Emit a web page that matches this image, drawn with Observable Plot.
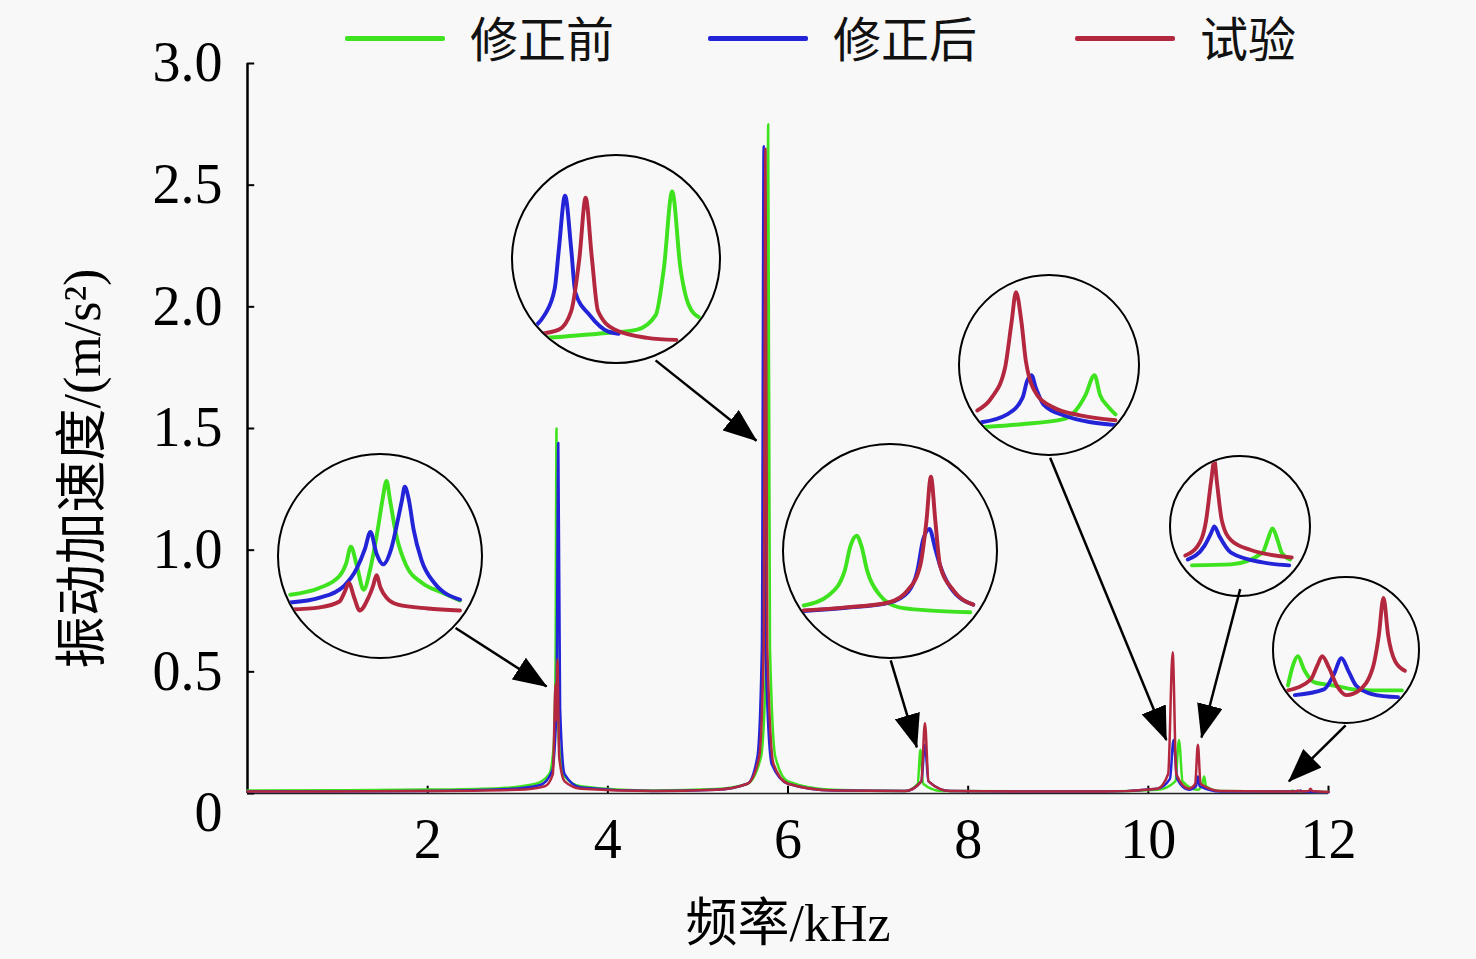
<!DOCTYPE html>
<html><head><meta charset="utf-8">
<script src="https://cdn.jsdelivr.net/npm/d3@7"></script>
<script src="https://cdn.jsdelivr.net/npm/@observablehq/plot@0.6"></script>
<style>
html,body{margin:0;padding:0;background:#f8f8f8;}
#wrap{position:relative;width:1476px;height:959px;overflow:hidden;}
#wrap > svg{position:absolute;left:0;top:0;}
.leg{position:absolute;top:1px;display:flex;align-items:center;}
.leg .sw{width:100px;height:5px;margin-right:25px;border-radius:2px;position:relative;top:2px;}
.leg span{font-family:"Noto Sans CJK SC";font-size:48px;line-height:normal;color:#111;}
.inset{position:absolute;box-sizing:border-box;border:2.5px solid #000;border-radius:50%;overflow:hidden;}
.inset svg{position:absolute;left:-2.5px;top:-2.5px;}
</style></head><body><div id="wrap"></div><script>
// ---- labels / ticks ----
const seriesNames = ["修正前", "修正后", "试验"];
const seriesColors = ["#3fe21f", "#2323d8", "#b3283f"];
const xTicks = [2, 4, 6, 8, 10, 12];
const yTicks = [0, 0.5, 1.0, 1.5, 2.0, 2.5, 3.0];
const xLabel = "频率/kHz";
const yLabel = "振动加速度/(m/s²)";

// ---- main spectra [kHz, m/s²] ----
const greenMain = [[0,0.012],[1.0,0.013],[2.0,0.016],[2.8,0.022],[3.2,0.04],[3.35,0.08],[3.40,0.2],[3.42,0.55],[3.43,1.50],[3.44,0.55],[3.46,0.2],[3.52,0.07],[3.7,0.03],[4.5,0.012],[5.2,0.018],[5.55,0.04],[5.70,0.15],[5.76,0.6],[5.78,2.75],[5.80,0.6],[5.86,0.15],[6.0,0.05],[6.5,0.015],[7.3,0.01],[7.44,0.04],[7.47,0.18],[7.50,0.04],[7.7,0.01],[9.5,0.008],[10.1,0.015],[10.3,0.05],[10.34,0.22],[10.38,0.05],[10.55,0.015],[10.60,0.04],[10.62,0.07],[10.64,0.03],[10.8,0.01],[11.58,0.008],[11.60,0.012],[11.62,0.008],[12.0,0.006]];
const blueMain = [[0,0.008],[2.0,0.01],[2.9,0.018],[3.25,0.035],[3.38,0.09],[3.43,0.35],[3.45,1.44],[3.47,0.35],[3.52,0.08],[3.7,0.025],[4.5,0.01],[5.2,0.015],[5.55,0.04],[5.66,0.15],[5.71,0.6],[5.73,2.66],[5.75,0.6],[5.82,0.12],[6.0,0.04],[6.5,0.012],[7.3,0.01],[7.48,0.05],[7.52,0.20],[7.56,0.05],[7.8,0.01],[9.5,0.008],[10.1,0.02],[10.24,0.06],[10.28,0.22],[10.32,0.06],[10.45,0.015],[10.53,0.03],[10.55,0.07],[10.57,0.03],[10.8,0.008],[11.67,0.008],[11.69,0.012],[11.71,0.008],[12,0.005]];
const redMain = [[0,0.008],[2.0,0.01],[3.0,0.015],[3.3,0.03],[3.39,0.08],[3.42,0.45],[3.43,0.3],[3.44,0.55],[3.46,0.15],[3.52,0.05],[3.7,0.02],[4.5,0.01],[5.2,0.015],[5.55,0.04],[5.68,0.15],[5.73,0.6],[5.75,2.65],[5.77,0.6],[5.84,0.12],[6.0,0.04],[6.5,0.012],[7.3,0.01],[7.48,0.05],[7.52,0.29],[7.56,0.05],[7.8,0.01],[9.5,0.008],[10.1,0.02],[10.22,0.08],[10.27,0.58],[10.31,0.08],[10.45,0.02],[10.52,0.04],[10.55,0.20],[10.58,0.04],[10.8,0.01],[11.64,0.008],[11.66,0.012],[11.68,0.008],[11.78,0.01],[11.80,0.02],[11.82,0.01],[12,0.006]];

// ---- annotation arrows (from inset to peak) ----
const arrowFromX = [2.31, 4.53, 7.14, 8.91, 11.02, 12.19];
const arrowFromY = [0.68, 1.78, 0.547, 1.38, 0.84, 0.28];
const arrowToX   = [3.32, 5.65, 7.43, 10.20, 10.59, 11.56];
const arrowToY   = [0.44, 1.45, 0.19, 0.22, 0.23, 0.05];

// ---- inset zoom spectra [kHz, relative amplitude] ----
const insetAGreen = [[3.319,0.301],[3.363,0.335],[3.392,0.393],[3.402,0.456],[3.409,0.539],[3.418,0.442],[3.428,0.325],[3.438,0.432],[3.449,0.626],[3.456,0.772],[3.462,0.864],[3.467,0.772],[3.476,0.602],[3.491,0.447],[3.515,0.359],[3.545,0.311],[3.571,0.272]];
const insetABlue = [[3.319,0.262],[3.363,0.286],[3.399,0.345],[3.418,0.432],[3.430,0.529],[3.438,0.612],[3.447,0.505],[3.457,0.451],[3.469,0.529],[3.479,0.675],[3.485,0.772],[3.489,0.835],[3.495,0.772],[3.502,0.626],[3.514,0.471],[3.533,0.359],[3.571,0.277]];
const insetARed = [[3.319,0.228],[3.363,0.238],[3.392,0.267],[3.400,0.316],[3.406,0.359],[3.414,0.286],[3.422,0.223],[3.435,0.286],[3.442,0.345],[3.447,0.398],[3.453,0.335],[3.462,0.286],[3.479,0.252],[3.523,0.233],[3.571,0.223]];

const insetBGreen = [[5.717,0.11],[5.742,0.13],[5.761,0.15],[5.770,0.22],[5.774,0.45],[5.778,0.82],[5.782,0.45],[5.786,0.27],[5.791,0.21]];
const insetBBlue = [[5.712,0.17],[5.716,0.22],[5.721,0.35],[5.723,0.54],[5.726,0.80],[5.729,0.54],[5.731,0.33],[5.738,0.22],[5.747,0.14],[5.752,0.13]];
const insetBRed = [[5.714,0.13],[5.723,0.15],[5.729,0.24],[5.733,0.50],[5.736,0.79],[5.739,0.50],[5.742,0.24],[5.750,0.15],[5.766,0.11],[5.780,0.10]];

const insetCGreen = [[7.436,0.236],[7.453,0.287],[7.463,0.398],[7.467,0.519],[7.471,0.565],[7.474,0.519],[7.478,0.398],[7.486,0.287],[7.499,0.227],[7.518,0.213],[7.546,0.204]];
const insetCBlue = [[7.436,0.21],[7.464,0.225],[7.492,0.248],[7.505,0.30],[7.511,0.398],[7.515,0.55],[7.519,0.597],[7.523,0.50],[7.526,0.426],[7.533,0.32],[7.548,0.24]];
const insetCRed = [[7.436,0.213],[7.464,0.227],[7.492,0.25],[7.505,0.31],[7.513,0.426],[7.517,0.63],[7.520,0.843],[7.523,0.63],[7.526,0.426],[7.535,0.306],[7.548,0.24]];

const insetDGreen = [[10.242,0.143],[10.275,0.159],[10.313,0.187],[10.324,0.236],[10.333,0.324],[10.341,0.434],[10.346,0.324],[10.354,0.253],[10.360,0.214]];
const insetDBlue = [[10.239,0.170],[10.262,0.214],[10.276,0.308],[10.280,0.401],[10.284,0.434],[10.288,0.363],[10.295,0.269],[10.313,0.209],[10.360,0.154]];
const insetDRed = [[10.235,0.236],[10.248,0.308],[10.260,0.473],[10.266,0.731],[10.270,0.901],[10.275,0.731],[10.279,0.511],[10.289,0.324],[10.304,0.253],[10.328,0.209],[10.360,0.181]];

const insetEGreen = [[10.523,0.204],[10.570,0.211],[10.608,0.296],[10.614,0.387],[10.620,0.472],[10.626,0.387],[10.631,0.296],[10.641,0.246]];
const insetEBlue = [[10.518,0.246],[10.538,0.345],[10.546,0.437],[10.550,0.486],[10.556,0.415],[10.570,0.296],[10.608,0.225],[10.640,0.204]];
const insetERed = [[10.515,0.275],[10.530,0.345],[10.540,0.528],[10.546,0.810],[10.550,0.965],[10.553,0.810],[10.559,0.528],[10.570,0.387],[10.593,0.317],[10.643,0.261]];

const insetFGreen = [[11.577,0.243],[11.589,0.385],[11.600,0.446],[11.616,0.345],[11.639,0.264],[11.684,0.243],[11.730,0.216],[11.775,0.209],[11.843,0.209]];
const insetFBlue = [[11.593,0.176],[11.661,0.216],[11.684,0.318],[11.702,0.432],[11.718,0.345],[11.736,0.243],[11.775,0.182],[11.834,0.162]];
const insetFRed = [[11.577,0.209],[11.630,0.284],[11.646,0.385],[11.657,0.446],[11.673,0.365],[11.691,0.243],[11.714,0.176],[11.743,0.209],[11.775,0.365],[11.789,0.588],[11.800,0.851],[11.811,0.588],[11.827,0.412],[11.850,0.345]];

const insetDomains = [[3.30,3.60],[5.70,5.80],[7.422,7.562],[10.218,10.379],[10.496,10.662],[11.541,11.877]];

// ---- build ----
const wrap = document.getElementById("wrap");
const mainSeries = [greenMain, blueMain, redMain];
const arrows = arrowFromX.map((d,i)=>({x1:d, y1:arrowFromY[i], x2:arrowToX[i], y2:arrowToY[i]}));
const font = "'Liberation Serif','Noto Sans CJK SC',serif";

const main = Plot.plot({
  width:1476, height:959,
  marginLeft:247, marginRight:148, marginTop:63, marginBottom:166,
  x:{domain:[0,12], axis:null},
  y:{domain:[0,3], axis:null},
  style:{background:"transparent", fontFamily:font, color:"#000"},
  marks:[
    Plot.ruleY([0], {x1:0, x2:12, stroke:"#222", strokeWidth:1.5}),
    Plot.ruleX(xTicks, {x:d=>d, y1:0, y2:0.03, stroke:"#000", strokeWidth:2}),
    Plot.ruleY(yTicks, {y:d=>d, x1:0, x2:0.08, stroke:"#000", strokeWidth:2}),
    Plot.ruleX([0], {y1:0, y2:3, stroke:"#000", strokeWidth:2.5}),
    ...mainSeries.map((s,i)=>Plot.line(s, {x:d=>d[0], y:d=>d[1], stroke:seriesColors[i], strokeWidth:2.5, curve:"monotone-x"})),
    Plot.link(arrows, {x1:"x1", y1:"y1", x2:"x2", y2:"y2", stroke:"#000", strokeWidth:2.5}),
    Plot.text(xTicks, {x:d=>d, y:0, text:d=>String(d), dy:47, fontSize:56, fill:"#000"}),
    Plot.text(yTicks.filter(d=>d>0), {x:0, y:d=>d, text:d=>d.toFixed(1), textAnchor:"end", dx:-25, fontSize:56, fill:"#000"}),
    Plot.text(yTicks.filter(d=>d===0), {x:0, y:d=>d, text:d=>"0", textAnchor:"end", dx:-25, dy:20, fontSize:56, fill:"#000"}),
    Plot.text([xLabel], {text:d=>d, frameAnchor:"bottom", textAnchor:"middle", dy:147, fontSize:52, fill:"#000"}),
    Plot.text([yLabel], {text:d=>d, frameAnchor:"left", textAnchor:"middle", rotate:-90, dx:-164, dy:40, fontSize:52, fill:"#000"})
  ]
});
const svgNS = "http://www.w3.org/2000/svg";
const defs = document.createElementNS(svgNS, "defs");
defs.innerHTML = '<marker id="tri" viewBox="0 0 34 26" refX="33" refY="13" markerWidth="34" markerHeight="26" markerUnits="userSpaceOnUse" orient="auto"><path d="M0,0L34,13L0,26Z" fill="#000"/></marker>';
main.prepend(defs);
main.querySelectorAll('g[aria-label="link"] path').forEach(p=>p.setAttribute("marker-end","url(#tri)"));
wrap.appendChild(main);

// legend
const legLeft = [345, 708, 1075];
seriesNames.forEach((n,i)=>{
  const d = document.createElement("div");
  d.className = "leg";
  d.style.left = legLeft[i] + "px";
  d.innerHTML = `<div class="sw" style="background:${seriesColors[i]}"></div><span>${n}</span>`;
  wrap.appendChild(d);
});

// insets
const insetBoxes = [[277,453,206],[511,154,210],[782,443,216],[958,274,182],[1169,455,142],[1272,576,148]];
const insetData = [
  [insetAGreen, insetABlue, insetARed],
  [insetBGreen, insetBBlue, insetBRed],
  [insetCGreen, insetCBlue, insetCRed],
  [insetDGreen, insetDBlue, insetDRed],
  [insetEGreen, insetEBlue, insetERed],
  [insetFGreen, insetFBlue, insetFRed]
];
insetBoxes.forEach(([left, top, size], k)=>{
  const div = document.createElement("div");
  div.className = "inset";
  div.style.left = left + "px"; div.style.top = top + "px";
  div.style.width = size + "px"; div.style.height = size + "px";
  const p = Plot.plot({
    width:size, height:size, margin:0,
    x:{domain:insetDomains[k], axis:null},
    y:{domain:[0,1], axis:null},
    style:{background:"transparent"},
    marks: insetData[k].map((s,i)=>Plot.line(s, {x:d=>d[0], y:d=>d[1], stroke:seriesColors[i], strokeWidth:4, curve:"monotone-x", strokeLinecap:"round", strokeLinejoin:"round"}))
  });
  div.appendChild(p);
  wrap.appendChild(div);
});
</script></body></html>
